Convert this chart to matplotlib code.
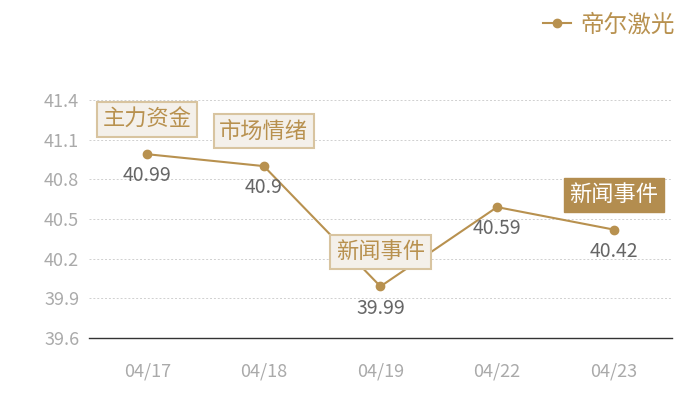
import matplotlib
matplotlib.use('Agg')
import matplotlib.pyplot as plt

plt.rcParams['font.family'] = ['Noto Sans CJK SC', 'DejaVu Sans']

# data
dates = ['04/17', '04/18', '04/19', '04/22', '04/23']
prices = [40.99, 40.9, 39.99, 40.59, 40.42]
tags = ['主力资金', '市场情绪', '新闻事件', None, '新闻事件']
tag_dark = [False, False, False, False, True]
series_name = '帝尔激光'
yticks = [39.6, 39.9, 40.2, 40.5, 40.8, 41.1, 41.4]

gold = '#b8914f'

fig = plt.figure(figsize=(7, 4), dpi=100)
ax = fig.add_axes([0.127, 0.155, 0.833, 0.595])

x = list(range(len(dates)))
line, = ax.plot(x, prices, color=gold, lw=1.5, marker='o', markersize=6, label=series_name, zorder=3)

ax.set_xlim(-0.5, len(dates) - 0.5)
ax.set_ylim(39.6, 41.4)
ax.set_yticks(yticks)
ax.set_yticklabels([f'{v:.1f}' for v in yticks])
ax.set_xticks(x)
ax.set_xticklabels(dates)
ax.tick_params(length=0, colors='#aaaaaa', labelsize=13)
ax.tick_params(axis='x', pad=18)
ax.tick_params(axis='y', pad=7)

for s in ['top', 'right', 'left']:
    ax.spines[s].set_visible(False)
ax.spines['bottom'].set_color('#333333')
ax.spines['bottom'].set_linewidth(1)
ax.grid(axis='y', color='#d0d0d0', linestyle=(0, (2, 2)), linewidth=0.7)
ax.set_axisbelow(True)

# value labels under points
for xi, v in zip(x, prices):
    ax.annotate(f'{v:g}', (xi, v), xytext=(0, -8), textcoords='offset points',
                ha='center', va='top', fontsize=14, color='#666666')

# event tags above points
for xi, v, t, dark in zip(x, prices, tags, tag_dark):
    if t is None:
        continue
    if dark:
        box = dict(boxstyle='square,pad=0.25', fc='#b38d4f', ec='#b38d4f', lw=1)
        tc = 'white'
    else:
        box = dict(boxstyle='square,pad=0.25', fc='#f4f0ea', ec='#d8c4a0', lw=1.5)
        tc = gold
    ax.annotate(t, (xi, v), xytext=(0, 25), textcoords='offset points',
                ha='center', va='center', fontsize=16, color=tc, bbox=box, zorder=4)

leg = fig.legend(handles=[line], loc='upper right', bbox_to_anchor=(0.995, 1.02),
                 frameon=False, fontsize=17, handlelength=1.2, handletextpad=0.4)
for txt in leg.get_texts():
    txt.set_color(gold)

fig.savefig('out.png', dpi=100)
